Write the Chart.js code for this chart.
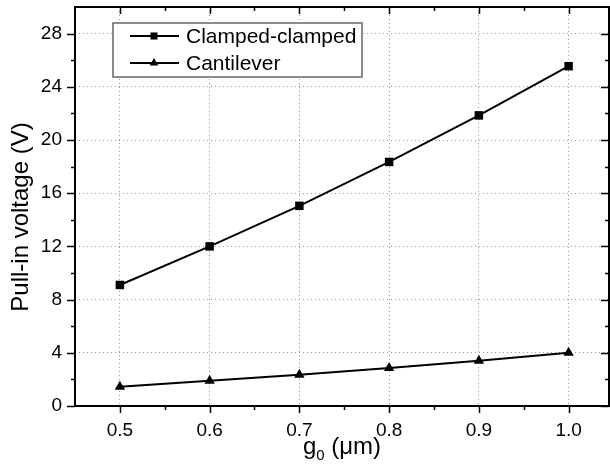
<!DOCTYPE html>
<html>
<head>
<meta charset="utf-8">
<script src="https://cdn.jsdelivr.net/npm/chart.js@4/dist/chart.umd.min.js"></script>
<style>
  html, body { margin: 0; padding: 0; background: #fff; }
  #wrap { width: 610px; height: 469px; }
</style>
</head>
<body>
<div id="wrap"><canvas id="pullInChart" width="610" height="469"></canvas></div>
<script>
// data
const gapValues = [0.5, 0.6, 0.7, 0.8, 0.9, 1.0];
const clampedClamped = [9.1, 12.0, 15.05, 18.35, 21.85, 25.55];
const cantilever = [1.45, 1.9, 2.35, 2.85, 3.4, 4.0];
const xTickValues = [0.5, 0.6, 0.7, 0.8, 0.9, 1.0];
const yTickValues = [0, 4, 8, 12, 16, 20, 24, 28];

const FONT = '"Liberation Sans", Arial, sans-serif';

// minor ticks, mirrored axes, legend box and axis titles
const frameOrigin = {
    id: 'frameOrigin',
    afterDraw(chart) {
        const c = chart.ctx;
        const a = chart.chartArea;
        const xs = chart.scales.x, ys = chart.scales.y;
        c.save();
        c.strokeStyle = '#000';
        c.lineWidth = 2;
        c.strokeRect(a.left, a.top, a.right - a.left, a.bottom - a.top);

        c.lineWidth = 1.5;
        c.beginPath();
        // x ticks: every 0.05
        for (let v = 0.5; v <= 1.0001; v += 0.05) {
            const px = Math.round(xs.getPixelForValue(v)) + 0.5;
            const major = Math.abs(v * 10 - Math.round(v * 10)) < 1e-6;
            const len = major ? 7 : 4;
            c.moveTo(px, a.bottom); c.lineTo(px, a.bottom + len);
            c.moveTo(px, a.top); c.lineTo(px, a.top + len);
        }
        // y ticks: every 2
        for (let v = 0; v <= 28; v += 2) {
            const py = Math.round(ys.getPixelForValue(v)) + 0.5;
            const len = v % 4 === 0 ? 8 : 4;
            c.moveTo(a.left, py); c.lineTo(a.left - len, py);
            c.moveTo(a.right, py); c.lineTo(a.right - len, py);
        }
        c.stroke();

        // legend
        const bx = 113, by = 23, bw = 249, bh = 54;
        c.fillStyle = '#fff';
        c.fillRect(bx, by, bw, bh);
        c.strokeStyle = '#666';
        c.lineWidth = 1.5;
        c.strokeRect(bx, by, bw, bh);
        const rows = [36, 63];
        chart.data.datasets.forEach((ds, i) => {
            const cy = rows[i];
            c.strokeStyle = '#000';
            c.lineWidth = 2;
            c.beginPath();
            c.moveTo(130, cy); c.lineTo(179, cy);
            c.stroke();
            c.fillStyle = '#000';
            Chart.helpers.drawPoint(c, { pointStyle: ds.pointStyle, radius: 5, rotation: 0, borderWidth: 0 }, 154, cy);
            c.fillStyle = '#000';
            c.font = '21px ' + FONT;
            c.textAlign = 'left';
            c.textBaseline = 'middle';
            c.fillText(ds.label, 186, cy + 1);
        });

        // y title
        c.fillStyle = '#000';
        c.font = '24px ' + FONT;
        c.textAlign = 'center';
        c.textBaseline = 'middle';
        c.save();
        c.translate(21, 217);
        c.rotate(-Math.PI / 2);
        c.fillText('Pull-in voltage (V)', 0, 0);
        c.restore();

        // x title with subscript
        const xc = (a.left + a.right) / 2;
        const base = 454;
        c.textBaseline = 'alphabetic';
        c.textAlign = 'left';
        c.font = '24px ' + FONT;
        const wg = c.measureText('g').width;
        c.font = '15px ' + FONT;
        const w0 = c.measureText('0').width;
        c.font = '24px ' + FONT;
        const wr = c.measureText(' (\u03bcm)').width;
        let x0 = xc - (wg + w0 + wr) / 2;
        c.fillText('g', x0, base);
        c.font = '15px ' + FONT;
        c.fillText('0', x0 + wg, base + 6);
        c.font = '24px ' + FONT;
        c.fillText(' (\u03bcm)', x0 + wg + w0, base);
        c.restore();
    }
};

const ctx = document.getElementById('pullInChart').getContext('2d');
new Chart(ctx, {
    type: 'line',
    data: {
        datasets: [
            {
                label: 'Clamped-clamped',
                data: gapValues.map((g, i) => ({ x: g, y: clampedClamped[i] })),
                borderColor: '#000',
                backgroundColor: '#000',
                borderWidth: 2,
                pointStyle: 'rect',
                pointRadius: 6,
                pointBorderWidth: 0,
                tension: 0
            },
            {
                label: 'Cantilever',
                data: gapValues.map((g, i) => ({ x: g, y: cantilever[i] })),
                borderColor: '#000',
                backgroundColor: '#000',
                borderWidth: 2,
                pointStyle: 'triangle',
                pointRadius: 6,
                pointBorderWidth: 0,
                tension: 0
            }
        ]
    },
    options: {
        responsive: false,
        animation: false,
        layout: { autoPadding: false, padding: { top: 7, right: 1, left: 0, bottom: 0 } },
        plugins: { legend: { display: false }, tooltip: { enabled: false } },
        scales: {
            x: {
                type: 'linear',
                min: 0.45,
                max: 1.045,
                afterBuildTicks: s => { s.ticks = xTickValues.map(v => ({ value: v })); },
                afterFit: s => { s.height = 63; s.paddingLeft = 0; s.paddingRight = 0; },
                grid: { color: '#999', lineWidth: 1, drawTicks: false },
                border: { display: false, dash: [1, 3] },
                ticks: {
                    color: '#000',
                    padding: 13,
                    font: { family: FONT, size: 19 },
                    maxRotation: 0,
                    callback: v => Number(v).toFixed(1)
                }
            },
            y: {
                min: 0,
                max: 30,
                afterBuildTicks: s => { s.ticks = yTickValues.map(v => ({ value: v })); },
                afterFit: s => { s.width = 75; s.paddingTop = 0; s.paddingBottom = 0; },
                grid: { color: '#999', lineWidth: 1, drawTicks: false },
                border: { display: false, dash: [1, 3] },
                ticks: {
                    color: '#000',
                    padding: 13,
                    font: { family: FONT, size: 19 }
                }
            }
        }
    },
    plugins: [frameOrigin]
});
</script>
</body>
</html>
